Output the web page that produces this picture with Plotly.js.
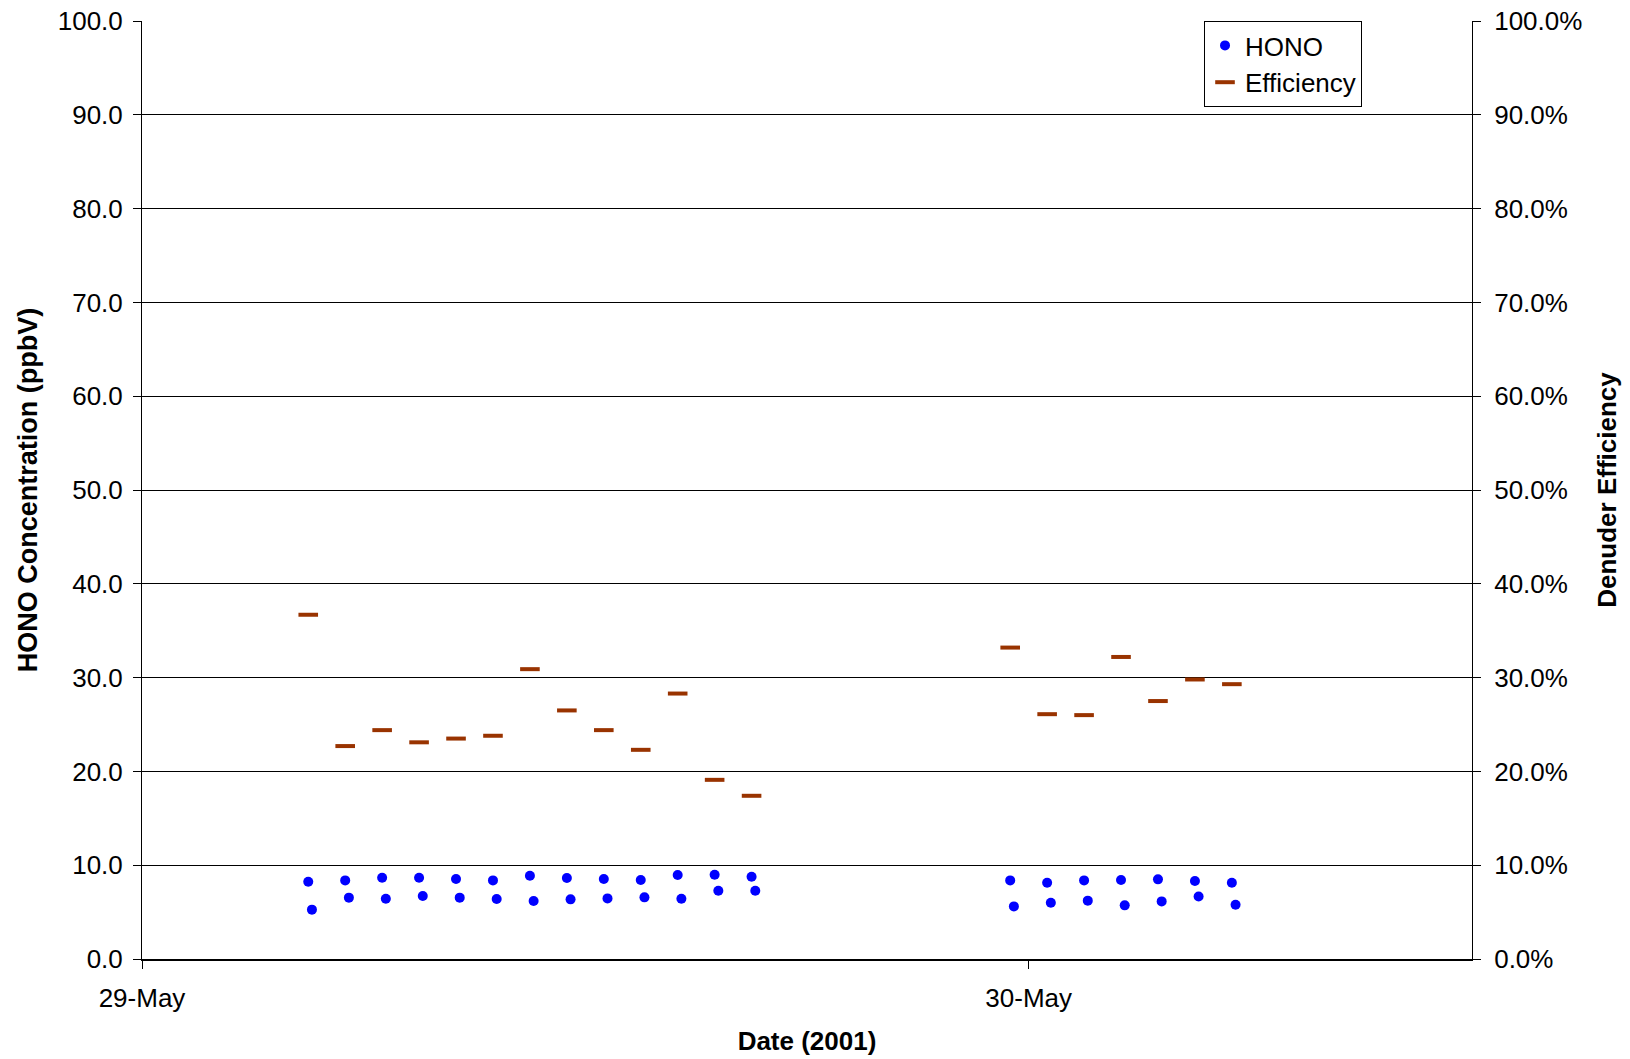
<!DOCTYPE html>
<html>
<head>
<meta charset="utf-8">
<script src="https://cdn.plot.ly/plotly-3.0.1.min.js"></script>
<style>html,body{margin:0;padding:0;background:#fff;}#chart{width:1630px;height:1059px;}</style>
</head>
<body>
<div id="chart"></div>
<script>
// HONO measurements (two samples per hour)
const honoTimes = [
  '2001-05-29 04:30','2001-05-29 04:36','2001-05-29 05:30','2001-05-29 05:36',
  '2001-05-29 06:30','2001-05-29 06:36','2001-05-29 07:30','2001-05-29 07:36',
  '2001-05-29 08:30','2001-05-29 08:36','2001-05-29 09:30','2001-05-29 09:36',
  '2001-05-29 10:30','2001-05-29 10:36','2001-05-29 11:30','2001-05-29 11:36',
  '2001-05-29 12:30','2001-05-29 12:36','2001-05-29 13:30','2001-05-29 13:36',
  '2001-05-29 14:30','2001-05-29 14:36','2001-05-29 15:30','2001-05-29 15:36',
  '2001-05-29 16:30','2001-05-29 16:36',
  '2001-05-29 23:30','2001-05-29 23:36','2001-05-30 00:30','2001-05-30 00:36',
  '2001-05-30 01:30','2001-05-30 01:36','2001-05-30 02:30','2001-05-30 02:36',
  '2001-05-30 03:30','2001-05-30 03:36','2001-05-30 04:30','2001-05-30 04:36',
  '2001-05-30 05:30','2001-05-30 05:36'
];
const honoValues = [
  8.24,5.26, 8.38,6.54, 8.67,6.43, 8.67,6.71, 8.53,6.54, 8.38,6.39,
  8.88,6.18, 8.63,6.36, 8.53,6.46, 8.42,6.57, 8.95,6.43, 8.99,7.28,
  8.77,7.28,
  8.38,5.61, 8.13,6.00, 8.38,6.22, 8.42,5.72, 8.49,6.14, 8.32,6.67,
  8.13,5.79
];
// Denuder efficiency (fraction), hourly
const effTimes = [
  '2001-05-29 04:30','2001-05-29 05:30','2001-05-29 06:30','2001-05-29 07:30',
  '2001-05-29 08:30','2001-05-29 09:30','2001-05-29 10:30','2001-05-29 11:30',
  '2001-05-29 12:30','2001-05-29 13:30','2001-05-29 14:30','2001-05-29 15:30',
  '2001-05-29 16:30',
  '2001-05-29 23:30','2001-05-30 00:30','2001-05-30 01:30','2001-05-30 02:30',
  '2001-05-30 03:30','2001-05-30 04:30','2001-05-30 05:30'
];
const effValues = [
  0.367,0.227,0.244,0.231,0.235,0.238,0.309,0.265,0.244,0.223,0.283,0.191,0.174,
  0.332,0.261,0.260,0.322,0.275,0.298,0.293
];
const xTickVals = ['2001-05-29 00:00','2001-05-30 00:00'];
const xTickText = ['29-May','30-May'];

const FONT = 'Liberation Sans, Arial, Helvetica, sans-serif';

const traces = [
  {
    x: honoTimes, y: honoValues, name: 'HONO', type: 'scatter', mode: 'markers',
    marker: {color: '#0000FF', size: 10, symbol: 'circle'}, yaxis: 'y'
  },
  {
    x: effTimes, y: effValues, name: 'Efficiency', type: 'scatter', mode: 'markers',
    marker: {symbol: 'line-ew', size: 14, color: 'rgb(153,51,0)', line: {color: 'rgb(153,51,0)', width: 4}},
    yaxis: 'y2'
  }
];

const layout = {
  width: 1630, height: 1059,
  margin: {l: 142, r: 158, t: 21, b: 100, pad: 0},
  paper_bgcolor: '#ffffff', plot_bgcolor: '#ffffff',
  font: {family: FONT, size: 26, color: '#000'},
  showlegend: true,
  legend: {
    x: 0.7985, y: 1.0, xanchor: 'left', yanchor: 'top',
    bgcolor: '#ffffff', bordercolor: '#000', borderwidth: 1,
    font: {family: FONT, size: 26, color: '#000'},
    itemwidth: 30, tracegroupgap: 0
  },
  xaxis: {
    type: 'date',
    range: ['2001-05-29 00:00', '2001-05-30 12:00'],
    tickmode: 'array', tickvals: xTickVals, ticktext: xTickText,
    ticks: 'outside', ticklen: 8, tickcolor: '#000', tickwidth: 1,
    showgrid: false, zeroline: false,
    showline: true, linecolor: '#000', linewidth: 2,
    ticklabelstandoff: 7,
    tickfont: {family: FONT, size: 26},
    title: {text: '<b>Date (2001)</b>', font: {family: FONT, size: 26}, standoff: 20}
  },
  yaxis: {
    range: [0, 100], dtick: 10, tick0: 0, tickformat: '.1f',
    ticks: 'outside', ticklen: 8, tickcolor: '#000', tickwidth: 1,
    showgrid: true, gridcolor: '#000', gridwidth: 1,
    zeroline: false, showline: true, linecolor: '#000', linewidth: 1,
    ticklabelstandoff: 5,
    tickfont: {family: FONT, size: 26},
    title: {text: '<b>HONO Concentration (ppbV)</b>', font: {family: FONT, size: 27}, standoff: 12}
  },
  yaxis2: {
    overlaying: 'y', side: 'right',
    range: [0, 1], dtick: 0.1, tick0: 0, tickformat: '.1%',
    ticks: 'outside', ticklen: 8, tickcolor: '#000', tickwidth: 1,
    showgrid: false, zeroline: false, showline: true, linecolor: '#000', linewidth: 1,
    ticklabelstandoff: 8,
    tickfont: {family: FONT, size: 26},
    title: {text: '<b>Denuder Efficiency</b>', font: {family: FONT, size: 26}, standoff: 16}
  }
};

Plotly.newPlot('chart', traces, layout, {displayModeBar: false, staticPlot: true});
</script>
</body>
</html>
